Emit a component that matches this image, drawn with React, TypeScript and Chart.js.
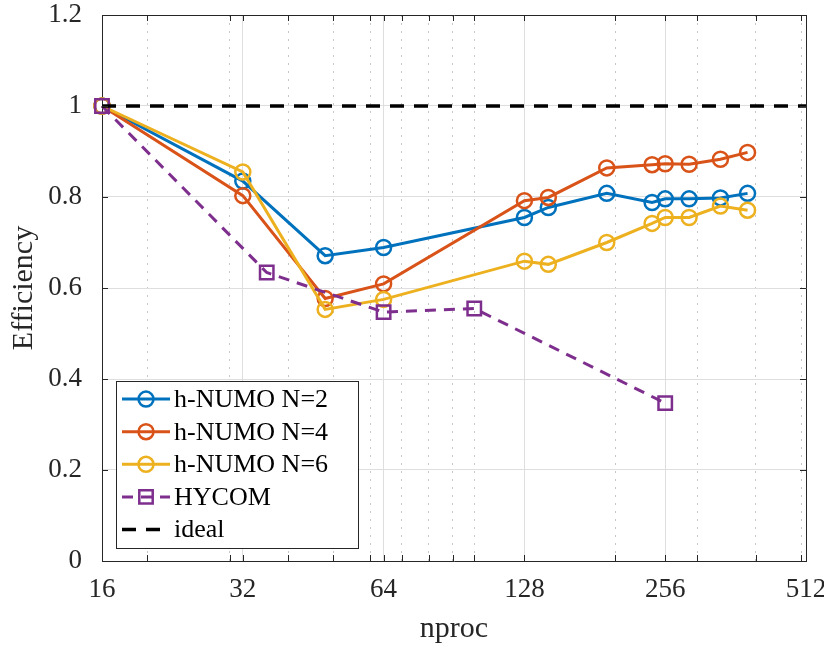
import { useEffect, useRef } from "react";
import { Chart, registerables } from "chart.js";

Chart.register(...registerables);

// ---- data ----
const nprocNumo = [16, 32, 48, 64, 128, 144, 192, 240, 256, 288, 336, 384];
const effN2 = [1.0, 0.835, 0.671, 0.689, 0.755, 0.777, 0.808, 0.788, 0.796, 0.796, 0.798, 0.808];
const effN4 = [1.0, 0.803, 0.577, 0.609, 0.792, 0.799, 0.864, 0.871, 0.873, 0.872, 0.883, 0.898];
const effN6 = [1.0, 0.855, 0.553, 0.575, 0.659, 0.652, 0.700, 0.742, 0.755, 0.755, 0.780, 0.771];
const nprocHycom = [16, 36, 64, 100, 256];
const effHycom = [1.0, 0.634, 0.547, 0.555, 0.347];
const nprocIdeal = [16, 512];
const effIdeal = [1, 1];

const xMajorTicks = [16, 32, 64, 128, 256, 512];
const xMinorTicks = [20, 30, 40, 50, 60, 70, 80, 90, 100, 200, 300, 400, 500];
const yTicks = [0, 0.2, 0.4, 0.6, 0.8, 1, 1.2];
const seriesLabels = ["h-NUMO N=2", "h-NUMO N=4", "h-NUMO N=6", "HYCOM", "ideal"];
const seriesColors = ["#0072BD", "#D95319", "#EDB120", "#7E2F8E", "#000000"];
const xTitle = "nproc";
const yTitle = "Efficiency";

const FONT = '"Liberation Serif", "Times New Roman", serif';
const AXIS_COLOR = "#262626";

const pts = (xs: number[], ys: number[]) => xs.map((x, i) => ({ x, y: ys[i] }));
const isMajorX = (v: any) => xMajorTicks.includes(Number(v));

const framePlugin = {
  id: "frameTicks",
  afterDatasetsDraw(chart: any) {
    const { ctx, chartArea } = chart;
    const { left, right, top, bottom } = chartArea;
    const xs = chart.scales.x;
    const ys = chart.scales.y;
    const L = 6;
    const a = (v: number) => Math.round(v) + 0.5;
    ctx.save();
    ctx.strokeStyle = AXIS_COLOR;
    ctx.lineWidth = 1;
    ctx.setLineDash([]);
    ctx.beginPath();
    ctx.moveTo(a(left), a(top));
    ctx.lineTo(a(right), a(top));
    ctx.lineTo(a(right), a(bottom));
    ctx.stroke();
    ctx.beginPath();
    [...xMajorTicks, ...xMinorTicks].forEach((v) => {
      const px = a(xs.getPixelForValue(v));
      ctx.moveTo(px, bottom);
      ctx.lineTo(px, bottom - L);
      ctx.moveTo(px, top);
      ctx.lineTo(px, top + L);
    });
    yTicks.forEach((v) => {
      const py = a(ys.getPixelForValue(v));
      ctx.moveTo(left, py);
      ctx.lineTo(left + L, py);
      ctx.moveTo(right, py);
      ctx.lineTo(right - L, py);
    });
    ctx.stroke();
    ctx.restore();
  },
};

const legendPlugin = {
  id: "boxLegend",
  afterDraw(chart: any) {
    const { ctx, chartArea } = chart;
    const dsets = chart.data.datasets;
    ctx.save();
    ctx.font = `26px ${FONT}`;
    const textW = Math.max(...dsets.map((d: any) => ctx.measureText(d.label).width));
    const padL = 6, sampleW = 48, gap = 4, padR = 30, padT = 18, padB = 18.5, rowH = 32.6;
    const w = padL + sampleW + gap + textW + padR;
    const h = padT + padB + rowH * (dsets.length - 1);
    const x0 = chartArea.left + 14;
    const y0 = chartArea.bottom - 13 - h;
    ctx.fillStyle = "#ffffff";
    ctx.fillRect(x0, y0, w, h);
    ctx.strokeStyle = AXIS_COLOR;
    ctx.lineWidth = 1;
    ctx.strokeRect(Math.round(x0) + 0.5, Math.round(y0) + 0.5, Math.round(w), Math.round(h));
    dsets.forEach((d: any, i: number) => {
      const cy = y0 + padT + i * rowH;
      const sx = x0 + padL;
      const cx = sx + sampleW / 2;
      ctx.strokeStyle = d.borderColor;
      ctx.lineWidth = d.borderWidth;
      ctx.setLineDash(d.borderDash || []);
      ctx.beginPath();
      ctx.moveTo(sx, cy);
      ctx.lineTo(sx + sampleW, cy);
      ctx.stroke();
      ctx.setLineDash([]);
      if (d.pointRadius > 0) {
        ctx.lineWidth = d.pointBorderWidth;
        ctx.fillStyle = "#ffffff";
        ctx.beginPath();
        if (d.pointStyle === "rect") {
          const s = Math.SQRT1_2 * d.pointRadius;
          ctx.rect(cx - s, cy - s, 2 * s, 2 * s);
        } else {
          ctx.arc(cx, cy, d.pointRadius, 0, Math.PI * 2);
        }
        ctx.stroke();
      }
      ctx.fillStyle = "#000000";
      ctx.textAlign = "left";
      ctx.textBaseline = "middle";
      ctx.fillText(d.label, sx + sampleW + gap, cy + 1);
    });
    ctx.restore();
  },
};

export default function App() {
  const ref = useRef<HTMLCanvasElement>(null);
  useEffect(() => {
    const mk = (i: number, xs: number[], ys: number[], extra: any) => ({
      label: seriesLabels[i],
      data: pts(xs, ys),
      borderColor: seriesColors[i],
      backgroundColor: "rgba(0,0,0,0)",
      pointBorderColor: seriesColors[i],
      pointBackgroundColor: "rgba(0,0,0,0)",
      borderWidth: 3,
      pointBorderWidth: 2.5,
      pointRadius: 7.5,
      pointHoverRadius: 7.5,
      tension: 0,
      clip: false,
      ...extra,
    });
    const chart = new Chart(ref.current as HTMLCanvasElement, {
      type: "line",
      data: {
        datasets: [
          mk(0, nprocNumo, effN2, { order: 5 }),
          mk(1, nprocNumo, effN4, { order: 4 }),
          mk(2, nprocNumo, effN6, { order: 3 }),
          mk(3, nprocHycom, effHycom, { order: 2, borderDash: [11, 8], pointStyle: "rect", pointRadius: 9.5, pointHoverRadius: 9.5 }),
          mk(4, nprocIdeal, effIdeal, { order: 1, borderDash: [14, 10], borderWidth: 3.5, pointRadius: 0, pointHoverRadius: 0 }),
        ] as any,
      },
      options: {
        responsive: false,
        animation: false,
        devicePixelRatio: 1,
        layout: { padding: { top: 15, right: 18, left: 0, bottom: 0 } },
        plugins: { legend: { display: false }, tooltip: { enabled: false } },
        events: [],
        scales: {
          x: {
            type: "logarithmic",
            min: 16,
            max: 512,
            afterBuildTicks: (s: any) => {
              s.ticks = [...xMajorTicks, ...xMinorTicks]
                .sort((p, q) => p - q)
                .map((v) => ({ value: v }));
            },
            afterFit: (s: any) => {
              s.height = 86;
              s.paddingLeft = 0;
              s.paddingRight = 0;
            },
            ticks: {
              autoSkip: false,
              maxRotation: 0,
              minRotation: 0,
              padding: 13,
              color: AXIS_COLOR,
              font: { family: FONT, size: 27 },
              callback: (v: any) => (isMajorX(v) ? String(v) : ""),
            },
            grid: {
              drawTicks: false,
              lineWidth: 1,
              color: (c: any) => (c.tick && !isMajorX(c.tick.value) ? "#c6c6c6" : "#dedede"),
            },
            border: {
              display: true,
              color: AXIS_COLOR,
              width: 1,
              dash: (c: any) => (c && c.tick && !isMajorX(c.tick.value) ? [2, 6] : []),
            },
            title: {
              display: true,
              text: xTitle,
              color: AXIS_COLOR,
              font: { family: FONT, size: 30 },
              padding: { top: 0, bottom: 0 },
            },
          },
          y: {
            type: "linear",
            min: 0,
            max: 1.2,
            afterBuildTicks: (s: any) => {
              s.ticks = yTicks.map((v) => ({ value: v }));
            },
            afterFit: (s: any) => {
              s.width = 102;
              s.paddingTop = 0;
              s.paddingBottom = 0;
            },
            ticks: {
              padding: 20,
              color: AXIS_COLOR,
              font: { family: FONT, size: 27 },
              callback: (v: any) => String(Math.round(Number(v) * 10) / 10),
            },
            grid: { drawTicks: false, lineWidth: 1, color: "#dedede" },
            border: { display: true, color: AXIS_COLOR, width: 1 },
            title: {
              display: true,
              text: yTitle,
              color: AXIS_COLOR,
              font: { family: FONT, size: 30 },
              padding: { top: 6, bottom: 0 },
            },
          },
        },
      } as any,
      plugins: [framePlugin, legendPlugin],
    });
    return () => chart.destroy();
  }, []);
  return (
    <div style={{ position: "absolute", left: 0, top: 0, width: 824, height: 647, background: "#ffffff" }}>
      <canvas ref={ref} width={824} height={647} style={{ display: "block" }} />
    </div>
  );
}
